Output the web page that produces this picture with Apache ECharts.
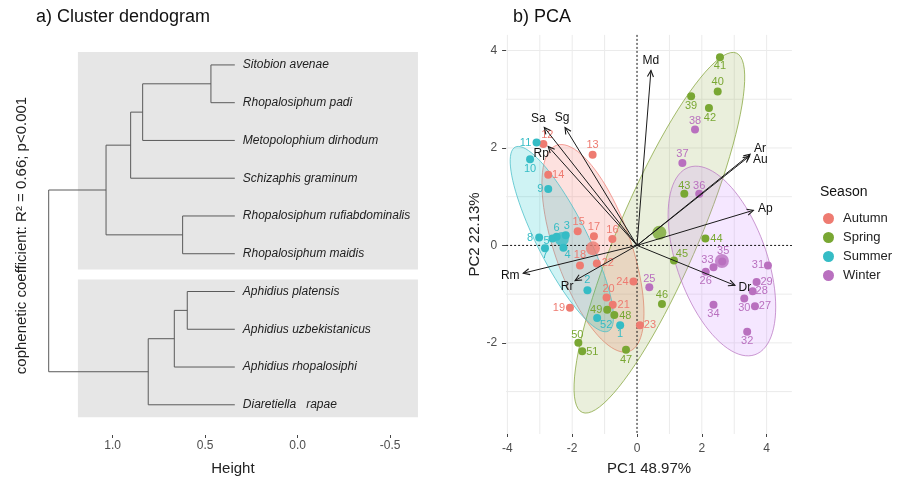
<!DOCTYPE html>
<html><head><meta charset="utf-8">
<script src="https://cdn.jsdelivr.net/npm/echarts@6/dist/echarts.min.js"></script>
<style>html,body{margin:0;padding:0;background:#fff}#c{width:900px;height:481px}</style>
</head><body><div id="c"></div>
<script>
// ---------- a) Dendrogram data ----------
const leafNames = ['Sitobion avenae','Rhopalosiphum padi','Metopolophium dirhodum','Schizaphis graminum',
  'Rhopalosiphum rufiabdominalis','Rhopalosiphum maidis','Aphidius platensis','Aphidius uzbekistanicus',
  'Aphidius rhopalosiphi','Diaretiella   rapae'];
const leafHeight = 0.34;
// merges (hclust style): negative = leaf number, positive = earlier merge number
const mergeA = [-1, 1, 2, -5, 3, -7, 6, 7, 5];
const mergeB = [-2, -3, -4, -6, 4, -8, -9, -10, 8];
const mergeHeight = [0.469, 0.838, 0.903, 0.622, 1.036, 0.597, 0.667, 0.808, 1.346];
const heightTicks = [1.0, 0.5, 0.0, -0.5];

// ---------- b) PCA data ----------
const seasons = ['Autumn','Spring','Summer','Winter'];
const autumnIds = [12,13,14,15,16,17,18,19,20,21,22,23,24];
const autumnPC1 = [-2.89,-1.37,-2.74,-1.83,-0.76,-1.33,-1.76,-2.07,-0.94,-0.75,-1.24,0.09,-0.11];
const autumnPC2 = [2.08,1.86,1.45,0.29,0.13,0.19,-0.41,-1.28,-1.07,-1.22,-0.37,-1.64,-0.74];
const springIds = [39,40,41,42,43,44,45,46,47,48,49,50,51];
const springPC1 = [1.67,2.49,2.56,2.22,1.46,2.11,1.14,0.77,-0.34,-0.70,-0.92,-1.81,-1.69];
const springPC2 = [3.06,3.16,3.86,2.82,1.06,0.14,-0.31,-1.20,-2.14,-1.43,-1.32,-2.00,-2.17];
const summerIds = [1,2,3,4,5,6,7,8,9,10,11,52];
const summerPC1 = [-0.52,-1.53,-2.20,-2.27,-2.61,-2.48,-2.84,-3.02,-2.74,-3.30,-3.10,-1.23];
const summerPC2 = [-1.64,-0.92,0.21,-0.05,0.14,0.18,-0.06,0.16,1.16,1.77,2.11,-1.49];
const winterIds = [25,26,27,28,29,30,31,32,33,34,35,36,37,38];
const winterPC1 = [0.38,2.12,3.64,3.57,3.69,3.31,4.04,3.40,2.36,2.36,2.63,1.92,1.40,1.79];
const winterPC2 = [-0.86,-0.54,-1.25,-0.94,-0.75,-1.09,-0.41,-1.77,-0.45,-1.22,-0.33,1.06,1.69,2.38];
const centroidPC1 = [-1.36, 0.69, -2.32, 2.62];
const centroidPC2 = [-0.06, 0.26, 0.13, -0.32];
// conjugate semi-axes of the concentration ellipses (data units)
const ellipseU = [[1.12,-2.115],[2.377,3.687],[1.437,-1.888],[1.019,-1.923]];
const ellipseV = [[1.107,0.255],[1.135,-0.319],[0.690,0.229],[1.311,0.302]];
const varNames = ['Md','Sa','Sg','Rp','Ar','Au','Ap','Dr','Rm','Rr'];
const varPC1 = [0.43,-2.86,-2.22,-2.74,3.49,3.47,3.59,3.02,-3.51,-1.91];
const varPC2 = [3.59,2.42,2.42,2.03,1.87,1.83,0.72,-0.82,-0.57,-0.72];
const pcaTicksX = [-4,-2,0,2,4];
const pcaTicksY = [-2,0,2,4];
const gridLinesX = [-4,-3,-2,-1,1,2,3,4];
const gridLinesY = [-3,-2,-1,1,2,3,4];

// ---------- styles / layout ----------
const FONT = '"Liberation Sans", Arial, sans-serif';
const seasonColor = ['#ee7b71','#79a733','#35bcc5','#b970bf'];
const ellStroke = ['rgba(240,130,120,0.75)','rgba(140,170,70,0.8)','rgba(70,190,200,0.75)','rgba(185,120,195,0.75)'];
const ellFill = ['rgba(248,118,109,0.22)','rgba(140,165,60,0.18)','rgba(0,191,196,0.19)','rgba(199,124,255,0.18)'];
const bands = [[1.188,-0.65,0.657,6.416],[1.188,-0.65,6.68,10.33]];
const labelOffset = {
  12:[4,-9],13:[0,-10],14:[10,0],15:[1,-9],16:[0,-9],17:[0,-9],18:[0,-10],19:[-11,0],20:[2,-9],21:[11,0],22:[11,0],23:[10,0],24:[-11,0],
  1:[0,9],2:[0,-10],3:[1,-9],4:[4,7],5:[-6,2],6:[0,-9],7:[0,7],8:[-9,0],9:[-8,0],10:[0,10],11:[-11,0],52:[9,7],
  39:[0,10],40:[0,-9],41:[0,9],42:[1,10],43:[0,-8],44:[11,0],45:[8,-7],46:[0,-9],47:[0,10],48:[11,1],49:[-11,0],50:[-1,-8],51:[10,1],
  25:[0,-8],26:[0,9],27:[10,0],28:[9,0],29:[10,0],30:[0,9],31:[-10,0],32:[0,9],33:[-6,-7],34:[0,9],35:[1,-11],36:[0,-8],37:[0,-9],38:[0,-8]
};
const varLabelOffset = [[0,-10],[-6,-9],[-3,-10],[-7,7],[10,-6],[11,3],[12,-2],[10,2],[-13,2],[-8,6]];

// ---------- build dendrogram segments ----------
const nodes = [];
const segs = [];
function nodePos(k){ return k < 0 ? [leafHeight, -k] : nodes[k-1]; }
for (let i = 0; i < mergeHeight.length; i++) {
  const a = nodePos(mergeA[i]), b = nodePos(mergeB[i]), h = mergeHeight[i];
  segs.push([a[0], a[1], h, a[1]]);
  segs.push([b[0], b[1], h, b[1]]);
  segs.push([h, a[1], h, b[1]]);
  nodes.push([h, (a[1] + b[1]) / 2]);
}

const chart = echarts.init(document.getElementById('c'), null, {renderer:'canvas', width:900, height:481});

const seasonIds = [autumnIds, springIds, summerIds, winterIds];
const seasonPC1 = [autumnPC1, springPC1, summerPC1, winterPC1];
const seasonPC2 = [autumnPC2, springPC2, summerPC2, winterPC2];

const pointSeries = seasons.map((s, si) => ({
  type:'scatter', name:s, xAxisIndex:1, yAxisIndex:1, z:6, symbolSize:8,
  itemStyle:{color:seasonColor[si], opacity:1},
  label:{show:true, formatter:'{b}', color:seasonColor[si], fontSize:11, fontFamily:FONT, position:'inside'},
  emphasis:{disabled:true},
  data: seasonIds[si].map((id, k) => ({name:String(id), value:[seasonPC1[si][k], seasonPC2[si][k]],
    label:{offset:labelOffset[id]}}))
}));

function vline(axisIdx, vals, style, z){
  return {type:'custom', xAxisIndex:1, yAxisIndex:1, silent:true, z:z,
    encode: axisIdx === 'x' ? {x:0} : {y:0},
    data: vals.map(v => [v]),
    renderItem: (params, api) => {
      const cs = params.coordSys;
      if (axisIdx === 'x') {
        const p = api.coord([api.value(0), 0]);
        return {type:'line', shape:{x1:p[0], y1:cs.y, x2:p[0], y2:cs.y + cs.height}, style:style};
      }
      const p = api.coord([0, api.value(0)]);
      return {type:'line', shape:{x1:cs.x, y1:p[1], x2:cs.x + cs.width, y2:p[1]}, style:style};
    }};
}

const option = {
  animation:false,
  backgroundColor:'#ffffff',
  textStyle:{fontFamily:FONT},
  grid:[
    {left:38.7, width:388.5, top:36, height:400},
    {left:506.1, width:285.8, top:34.9, height:402.1}
  ],
  xAxis:[
    {type:'value', gridIndex:0, inverse:true, min:-0.7, max:1.4,
     axisLine:{show:false, onZero:false}, splitLine:{show:false},
     axisTick:{show:true, length:3, customValues:heightTicks, lineStyle:{color:'#444'}},
     axisLabel:{customValues:heightTicks, formatter:v => Number(v).toFixed(1), color:'#4d4d4d', fontSize:12, margin:5, fontFamily:FONT},
     name:'Height', nameLocation:'middle', nameGap:26, nameTextStyle:{fontSize:15, color:'#222', fontFamily:FONT}},
    {type:'value', gridIndex:1, min:-4.04, max:4.78,
     axisLine:{show:false, onZero:false}, splitLine:{show:false},
     axisTick:{show:true, length:3, customValues:pcaTicksX, lineStyle:{color:'#444'}},
     axisLabel:{customValues:pcaTicksX, color:'#4d4d4d', fontSize:12, margin:9, fontFamily:FONT},
     name:'PC1 48.97%', nameLocation:'middle', nameGap:27, nameTextStyle:{fontSize:15, color:'#222', fontFamily:FONT}}
  ],
  yAxis:[
    {type:'value', gridIndex:0, inverse:true, min:0.234, max:10.8,
     axisLine:{show:false, onZero:false}, axisTick:{show:false}, axisLabel:{show:false}, splitLine:{show:false},
     name:'cophenetic coefficient: R² = 0.66; p<0.001', nameLocation:'middle', nameRotate:90, nameGap:9,
     nameTextStyle:{fontSize:15, color:'#222', fontFamily:FONT}},
    {type:'value', gridIndex:1, min:-3.87, max:4.32,
     axisLine:{show:false, onZero:false}, splitLine:{show:false},
     axisTick:{show:true, length:4, customValues:pcaTicksY, lineStyle:{color:'#444'}},
     axisLabel:{customValues:pcaTicksY, color:'#4d4d4d', fontSize:12, margin:9, fontFamily:FONT},
     name:'PC2 22.13%', nameLocation:'middle', nameRotate:90, nameGap:22,
     nameTextStyle:{fontSize:15, color:'#222', fontFamily:FONT}}
  ],
  legend:{
    data:seasons, orient:'vertical', left:818, top:207, itemWidth:11, itemHeight:11, itemGap:6,
    icon:'circle', selectedMode:false,
    textStyle:{fontSize:13, color:'#222', fontFamily:FONT, lineHeight:13, padding:[0,0,0,4]}
  },
  graphic:[
    {type:'text', left:36, top:8, style:{text:'a) Cluster dendogram', fontSize:18, fill:'#111', fontFamily:FONT}},
    {type:'text', left:513, top:8, style:{text:'b) PCA', fontSize:18, fill:'#111', fontFamily:FONT}},
    {type:'text', left:820, top:185, style:{text:'Season', fontSize:14, fill:'#111', fontFamily:FONT}}
  ],
  series:[
    // dendrogram background bands
    {type:'custom', xAxisIndex:0, yAxisIndex:0, silent:true, z:0,
     data:bands, encode:{x:[0,1], y:[2,3]},
     renderItem:(params, api) => {
       const p1 = api.coord([api.value(0), api.value(2)]);
       const p2 = api.coord([api.value(1), api.value(3)]);
       return {type:'rect', shape:{x:p1[0], y:p1[1], width:p2[0]-p1[0], height:p2[1]-p1[1]}, style:{fill:'#e6e6e6'}};
     }},
    // dendrogram branches
    {type:'custom', xAxisIndex:0, yAxisIndex:0, silent:true, z:2,
     data:segs, encode:{x:[0,2], y:[1,3]},
     renderItem:(params, api) => {
       const p1 = api.coord([api.value(0), api.value(1)]);
       const p2 = api.coord([api.value(2), api.value(3)]);
       return {type:'line', shape:{x1:p1[0], y1:p1[1], x2:p2[0], y2:p2[1]}, style:{stroke:'#5a5a5a', lineWidth:1}};
     }},
    // leaf labels
    {type:'custom', xAxisIndex:0, yAxisIndex:0, silent:true, z:3,
     data:leafNames.map((n, i) => [leafHeight, i + 1]), encode:{x:0, y:1},
     renderItem:(params, api) => {
       const p = api.coord([api.value(0), api.value(1)]);
       return {type:'text', x:p[0] + 8, y:p[1], style:{text:leafNames[params.dataIndex], fontSize:12, fontStyle:'italic',
         fill:'#222', fontFamily:FONT, align:'left', verticalAlign:'middle'}};
     }},
    // PCA grid lines
    vline('x', gridLinesX, {stroke:'#ebebeb', lineWidth:1}, 0),
    vline('y', gridLinesY, {stroke:'#ebebeb', lineWidth:1}, 0),
    // ellipses
    {type:'custom', xAxisIndex:1, yAxisIndex:1, silent:true, z:1,
     data:seasons.map((s, i) => [centroidPC1[i], centroidPC2[i]]), encode:{x:0, y:1},
     renderItem:(params, api) => {
       const i = params.dataIndex, cx = api.value(0), cy = api.value(1);
       const U = ellipseU[i], V = ellipseV[i], pts = [];
       for (let k = 0; k <= 90; k++) {
         const t = 2 * Math.PI * k / 90;
         pts.push(api.coord([cx + Math.cos(t) * U[0] + Math.sin(t) * V[0], cy + Math.cos(t) * U[1] + Math.sin(t) * V[1]]));
       }
       return {type:'polygon', shape:{points:pts}, style:{fill:ellFill[i], stroke:ellStroke[i], lineWidth:1}};
     }},
    // zero lines
    vline('x', [0], {stroke:'#111', lineWidth:1, lineDash:[2,2]}, 3),
    vline('y', [0], {stroke:'#111', lineWidth:1, lineDash:[2,2]}, 3),
    ...pointSeries,
    // centroids
    {type:'scatter', name:'centroids', xAxisIndex:1, yAxisIndex:1, z:6, symbolSize:14, silent:true,
     data:seasons.map((s, i) => ({value:[centroidPC1[i], centroidPC2[i]], itemStyle:{color:seasonColor[i]}}))},
    // variable arrows
    {type:'custom', xAxisIndex:1, yAxisIndex:1, silent:true, z:8,
     data:varNames.map((n, i) => [varPC1[i], varPC2[i]]), encode:{x:0, y:1},
     renderItem:(params, api) => {
       const i = params.dataIndex;
       const o = api.coord([0, 0]);
       const p = api.coord([api.value(0), api.value(1)]);
       const ang = Math.atan2(p[1] - o[1], p[0] - o[0]);
       const L = 7, A = Math.PI / 7;
       const h1 = [p[0] - L * Math.cos(ang - A), p[1] - L * Math.sin(ang - A)];
       const h2 = [p[0] - L * Math.cos(ang + A), p[1] - L * Math.sin(ang + A)];
       const off = varLabelOffset[i];
       return {type:'group', children:[
         {type:'line', shape:{x1:o[0], y1:o[1], x2:p[0], y2:p[1]}, style:{stroke:'#1a1a1a', lineWidth:1}},
         {type:'polyline', shape:{points:[h1, p, h2]}, style:{stroke:'#1a1a1a', lineWidth:1.1, fill:null}},
         {type:'text', x:p[0] + off[0], y:p[1] + off[1], style:{text:varNames[i], fontSize:12, fill:'#111',
           fontFamily:FONT, align:'center', verticalAlign:'middle'}}
       ]};
     }}
  ]
};
chart.setOption(option);
</script>
</body></html>
